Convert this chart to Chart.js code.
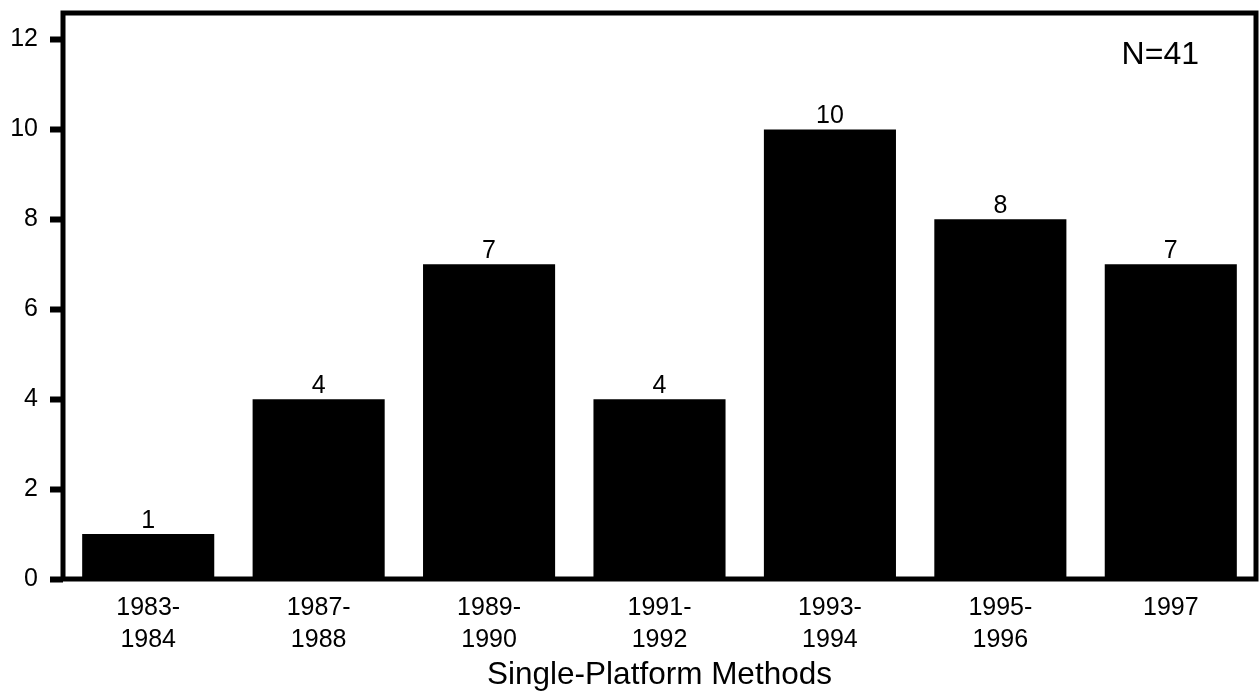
<!DOCTYPE html>
<html>
<head>
<meta charset="utf-8">
<script src="https://cdn.jsdelivr.net/npm/chart.js@4.4.1/dist/chart.umd.min.js"></script>
<style>
  html, body { margin: 0; padding: 0; background: #fff; }
  #wrap { width: 1259px; height: 694px; position: relative; }
</style>
</head>
<body>
<div id="wrap"><canvas id="c"></canvas></div>
<script>
const categories = [["1983-", "1984"], ["1987-", "1988"], ["1989-", "1990"], ["1991-", "1992"], ["1993-", "1994"], ["1995-", "1996"], ["1997"]];
const counts = [1, 4, 7, 4, 10, 8, 7];
const yTicks = [0, 2, 4, 6, 8, 10, 12];
const xTitle = "Single-Platform Methods";
const note = "N=41";

const FONT = "'Liberation Sans', Arial, Helvetica, sans-serif";

const framePlugin = {
  id: 'frame',
  afterDraw(chart) {
    const { ctx, chartArea: a } = chart;
    ctx.save();
    ctx.strokeStyle = '#000';
    ctx.lineWidth = 5;
    ctx.lineJoin = 'miter';
    ctx.strokeRect(a.left, a.top, a.right - a.left, a.bottom - a.top);
    // value labels
    ctx.fillStyle = '#000';
    ctx.font = '25px ' + FONT;
    ctx.textAlign = 'center';
    ctx.textBaseline = 'alphabetic';
    const meta = chart.getDatasetMeta(0);
    meta.data.forEach((bar, i) => {
      ctx.fillText(String(counts[i]), bar.x, bar.y - 6);
    });
    // N note
    ctx.font = '32px ' + FONT;
    ctx.textAlign = 'right';
    ctx.fillText(note, a.right - 57, a.top + 51);
    ctx.restore();
  }
};

new Chart(document.getElementById('c'), {
  type: 'bar',
  data: {
    labels: categories,
    datasets: [{
      data: counts,
      backgroundColor: '#000',
      borderWidth: 0,
      categoryPercentage: 1.0,
      barPercentage: 0.775
    }]
  },
  options: {
    responsive: true,
    maintainAspectRatio: false,
    animation: false,
    devicePixelRatio: 1,
    layout: { padding: { top: 13, right: 3, left: 0, bottom: 0 } },
    plugins: {
      legend: { display: false },
      tooltip: { enabled: false },
      title: { display: false }
    },
    scales: {
      x: {
        border: { display: false },
        grid: { display: false, drawTicks: false },
        ticks: {
          color: '#000',
          font: { family: FONT, size: 25, lineHeight: 1.28 },
          padding: 13,
          maxRotation: 0,
          autoSkip: false
        },
        title: {
          display: true,
          text: xTitle,
          color: '#000',
          font: { family: FONT, size: 31.5, lineHeight: 1.2 },
          padding: { top: 3, bottom: 0 }
        },
        afterFit(scale) { scale.height = 115; scale.paddingLeft = 0; scale.paddingRight = 0; }
      },
      y: {
        min: 0,
        max: 12.59,
        border: { display: false },
        grid: {
          display: true,
          drawOnChartArea: false,
          drawTicks: true,
          tickLength: 13,
          tickWidth: 6,
          tickColor: '#000'
        },
        ticks: {
          stepSize: 2,
          color: '#000',
          font: { family: FONT, size: 25 },
          padding: 12
        },
        afterBuildTicks(scale) {
          scale.ticks = yTicks.map(v => ({ value: v }));
        },
        afterFit(scale) { scale.width = 63; scale.paddingTop = 0; scale.paddingBottom = 0; }
      }
    }
  },
  plugins: [framePlugin]
});
</script>
</body>
</html>
